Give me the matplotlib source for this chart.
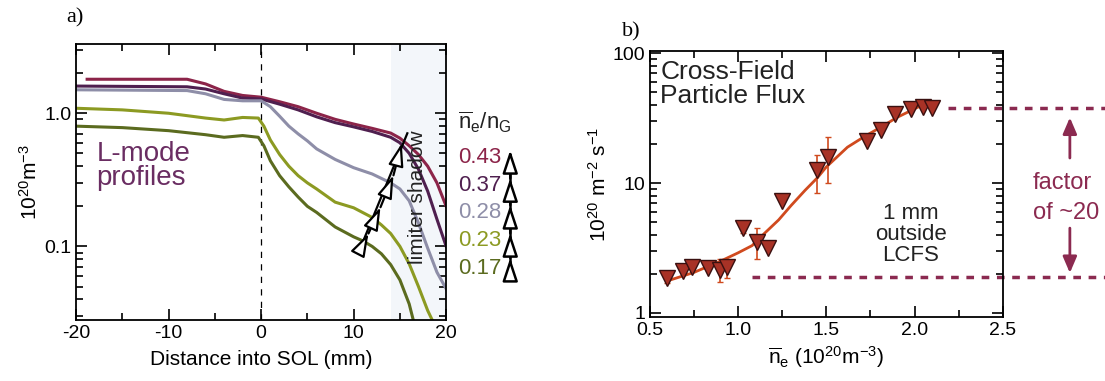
import numpy as np
import matplotlib
matplotlib.use("Agg")
import matplotlib.pyplot as plt
from matplotlib.ticker import LogLocator, MultipleLocator, FixedLocator, NullFormatter

plt.rcParams["font.family"] = ["Liberation Sans", "DejaVu Sans"]
plt.rcParams["mathtext.fontset"] = "custom"
plt.rcParams["mathtext.rm"] = "Liberation Sans"
plt.rcParams["mathtext.it"] = "Liberation Sans"
plt.rcParams["mathtext.default"] = "regular"
plt.rcParams["axes.unicode_minus"] = False

# === panel a: L-mode density profiles ===
labels_a = ["0.43", "0.37", "0.28", "0.23", "0.17"]
colors_a = ["#8c2449", "#4f1f4f", "#8e8ea8", "#8c9a22", "#5b6b1f"]

x043 = [-18.8, -8, -6, -4, -2, 0, 2, 4, 6, 8, 10, 12, 14, 15, 16, 17, 18, 19, 20]
y043 = [1.80, 1.80, 1.66, 1.46, 1.36, 1.32, 1.22, 1.12, 1.0, 0.90, 0.83, 0.77, 0.71, 0.65, 0.57, 0.49, 0.40, 0.30, 0.20]

x037 = [-20, -8, -6, -4, -2, 0, 2, 4, 6, 8, 10, 12, 14, 15, 16, 17, 18, 19, 20]
y037 = [1.60, 1.58, 1.52, 1.40, 1.30, 1.28, 1.17, 1.06, 0.94, 0.85, 0.79, 0.73, 0.66, 0.60, 0.50, 0.38, 0.26, 0.16, 0.10]

x028 = [-20, -8, -6, -4, -2, 0, 1, 2, 3, 4, 5, 6, 8, 10, 12, 14, 15, 16, 17, 18, 19, 20]
y028 = [1.50, 1.48, 1.40, 1.27, 1.24, 1.24, 1.12, 0.95, 0.80, 0.70, 0.62, 0.54, 0.45, 0.39, 0.35, 0.30, 0.27, 0.22, 0.15, 0.097, 0.064, 0.048]

x023 = [-20, -15, -10, -6, -4, -2, -0.3, 0.3, 1, 2, 3, 4, 5, 6, 8, 10, 12, 13, 14, 15, 16, 17, 18, 18.6]
y023 = [1.09, 1.06, 1.0, 0.92, 0.89, 0.93, 0.92, 0.80, 0.63, 0.49, 0.40, 0.34, 0.30, 0.27, 0.215, 0.195, 0.165, 0.145, 0.125, 0.10, 0.074, 0.05, 0.033, 0.027]

x017 = [-20, -15, -10, -6, -4, -2, -0.3, 0.3, 1, 2, 3, 4, 5, 6, 8, 10, 11, 12, 13, 14, 15, 16, 16.5]
y017 = [0.80, 0.78, 0.74, 0.69, 0.66, 0.68, 0.66, 0.57, 0.44, 0.34, 0.28, 0.235, 0.20, 0.18, 0.14, 0.118, 0.11, 0.10, 0.088, 0.073, 0.056, 0.037, 0.027]

profiles_x = [x043, x037, x028, x023, x017]
profiles_y = [y043, y037, y028, y023, y017]

# === panel b: cross-field particle flux ===
ne = [0.597, 0.69, 0.74, 0.83, 0.90, 0.94, 1.03, 1.11, 1.17, 1.25, 1.45, 1.51, 1.73, 1.81, 1.89, 1.98, 2.05, 2.10]
flux = [1.86, 2.10, 2.26, 2.22, 2.14, 2.26, 4.5, 3.5, 3.16, 7.3, 12.6, 15.8, 21, 25.5, 34, 37, 38.5, 38]
flux_lo = [1.70, 2.10, 2.26, 2.22, 1.72, 1.85, 4.1, 2.6, 3.16, 7.3, 8.4, 10.0, 21, 25.5, 34, 37, 38.5, 38]
flux_hi = [2.05, 2.10, 2.26, 2.22, 2.6, 2.5, 5.0, 4.5, 3.16, 7.3, 16.4, 22.6, 21, 25.5, 34, 37, 38.5, 38]

fit_x = [0.62, 0.75, 0.9, 1.0, 1.08, 1.15, 1.23, 1.3, 1.38, 1.45, 1.5, 1.62, 1.72, 1.81, 1.9, 2.02, 2.1]
fit_y = [1.8, 2.05, 2.5, 2.9, 3.3, 4.1, 5.2, 6.7, 8.8, 11, 13.3, 18.9, 23, 27, 32, 38.5, 40.5]

flux_high, flux_low = 38, 1.89

fig = plt.figure(figsize=(11.05, 3.81), dpi=100)
ax = fig.add_axes([0.0688, 0.160, 0.335, 0.724])
bx = fig.add_axes([0.588, 0.168, 0.3195, 0.698])

MAROON = "#8b2a50"
open_head = dict(arrowstyle="-|>,head_length=1.0,head_width=0.33",
                 fc="white", ec="black", lw=1.6, mutation_scale=14,
                 shrinkA=0, shrinkB=0)

# --- panel a ---
ax.axvspan(14, 20, color="#f0f4f9", alpha=0.8, lw=0, zorder=0)
ax.axvline(0, color="black", lw=0.9, ls=(0, (5, 5)), zorder=1)
for xs, ys, c in zip(profiles_x, profiles_y, colors_a):
    ax.plot(xs, ys, color=c, lw=2.2, zorder=2)

ax.set_yscale("log")
ax.set_xlim(-20, 20)
ax.set_ylim(0.028, 3.3)
ax.xaxis.set_major_locator(MultipleLocator(10))
ax.xaxis.set_minor_locator(MultipleLocator(5))
ax.yaxis.set_major_locator(FixedLocator([0.1, 1.0]))
ax.yaxis.set_minor_locator(LogLocator(base=10, subs=np.arange(2, 10)))
ax.yaxis.set_minor_formatter(NullFormatter())
ax.set_yticklabels(["0.1", "1.0"])
ax.tick_params(which="both", direction="in", top=True, right=True, labelsize=14, width=1.2)
ax.tick_params(which="major", length=8)
ax.tick_params(which="minor", length=5)
for s in ax.spines.values():
    s.set_linewidth(1.3)
ax.set_xlabel("Distance into SOL (mm)", fontsize=15, labelpad=6)
ax.set_ylabel(r"$10^{20}$m$^{-3}$", fontsize=15, labelpad=2)

ax.text(-17.8, 0.40, "L-mode\nprofiles", color="#6a2d62", fontsize=20,
        ha="left", va="center", linespacing=0.9)
ax.text(16.9, 0.235, "limiter shadow", rotation=90, fontsize=15,
        ha="center", va="center", color="#222222", zorder=5)
fig.text(0.06, 0.94, "a)", fontsize=16, family="Liberation Serif")

# arrows along the profiles
pts = [(10.5, 0.089), (11.6, 0.125), (12.9, 0.197), (14.3, 0.342), (15.2, 0.595)]
ax.plot([10.5, 15.8], [0.089, 0.707], color="black", lw=1.6, zorder=5)
for (x0, y0), (x1, y1) in zip(pts[:-1], pts[1:]):
    ax.annotate("", xy=(x1, y1), xytext=(x0, y0), arrowprops=open_head, zorder=6)

# legend column
ax.text(1.032, 0.717, r"$\overline{n}_e/n_G$", transform=ax.transAxes,
        fontsize=16, ha="left", va="center", color="#222222")
leg_y = [0.591, 0.489, 0.391, 0.290, 0.188]
for lab, c, yy in zip(labels_a, colors_a, leg_y):
    ax.text(1.032, yy, lab, transform=ax.transAxes, fontsize=16,
            ha="left", va="center", color=c)
heads = [0.156, 0.225, 0.315, 0.417, 0.514, 0.616]
ax.plot([1.173, 1.173], [0.156, 0.60], transform=ax.transAxes, color="black",
        lw=1.8, clip_on=False)
for y0, y1 in zip(heads[:-1], heads[1:]):
    ax.annotate("", xy=(1.173, y1), xytext=(1.173, y0), xycoords="axes fraction",
                textcoords="axes fraction", annotation_clip=False,
                arrowprops=dict(open_head, lw=1.8))

# --- panel b ---
bx.plot(fit_x, fit_y, color="#d04a1e", lw=2, zorder=2)
yerr = [np.array(flux) - np.array(flux_lo), np.array(flux_hi) - np.array(flux)]
bx.errorbar(ne, flux, yerr=yerr, fmt="none", ecolor="#d04a1e", elinewidth=1.2,
            capsize=2, zorder=3)
bx.plot(ne, flux, ls="none", marker="v", ms=12, mfc="#a83226", mec="#3a1010",
        mew=1.0, zorder=4)

bx.plot([2.19, 3.085], [flux_high, flux_high], color=MAROON, lw=2.5,
        ls=(0, (2.2, 2.2)), clip_on=False, zorder=1)
bx.plot([1.08, 3.085], [flux_low, flux_low], color=MAROON, lw=2.5,
        ls=(0, (2.2, 2.2)), clip_on=False, zorder=1)
bx.annotate("", xy=(2.88, 32), xytext=(2.88, 15.6), annotation_clip=False,
            arrowprops=dict(arrowstyle="-|>,head_length=0.7,head_width=0.3",
                            color=MAROON, lw=2, mutation_scale=14, shrinkA=0, shrinkB=0))
bx.annotate("", xy=(2.88, 2.03), xytext=(2.88, 4.5), annotation_clip=False,
            arrowprops=dict(arrowstyle="-|>,head_length=0.7,head_width=0.3",
                            color=MAROON, lw=2, mutation_scale=14, shrinkA=0, shrinkB=0))
bx.text(2.67, 10, "factor", color=MAROON, fontsize=17, ha="left", va="center",
        clip_on=False)
bx.text(2.67, 5.9, "of ~20", color=MAROON, fontsize=17, ha="left", va="center",
        clip_on=False)

bx.set_yscale("log")
bx.set_xlim(0.5, 2.5)
bx.set_ylim(0.93, 104)
bx.xaxis.set_major_locator(MultipleLocator(0.5))
bx.xaxis.set_minor_locator(MultipleLocator(0.25))
bx.xaxis.set_major_formatter(plt.FuncFormatter(lambda v, _: f"{v:.1f}"))
bx.yaxis.set_major_locator(FixedLocator([1, 10, 100]))
bx.yaxis.set_minor_locator(LogLocator(base=10, subs=np.arange(2, 10)))
bx.yaxis.set_minor_formatter(NullFormatter())
bx.set_yticklabels(["1", "10", "100"])
bx.tick_params(which="both", direction="in", top=True, right=True, labelsize=14, width=1.2)
bx.tick_params(which="major", length=8)
bx.tick_params(which="minor", length=5)
for s in bx.spines.values():
    s.set_linewidth(1.3)
bx.set_xlabel(r"$\overline{n}_e$ (10$^{20}$m$^{-3}$)", fontsize=15, labelpad=4)
bx.set_ylabel(r"$10^{20}$ m$^{-2}$ s$^{-1}$", fontsize=15, labelpad=2)

bx.text(0.56, 58, "Cross-Field\nParticle Flux", fontsize=19, ha="left",
        va="center", color="#222222", linespacing=1.0)
bx.text(1.98, 4.0, "1 mm\noutside\nLCFS", fontsize=16, ha="center",
        va="center", color="#222222", linespacing=1.0)
fig.text(0.563, 0.905, "b)", fontsize=16, family="Liberation Serif")

fig.savefig("out.png", dpi=100)
